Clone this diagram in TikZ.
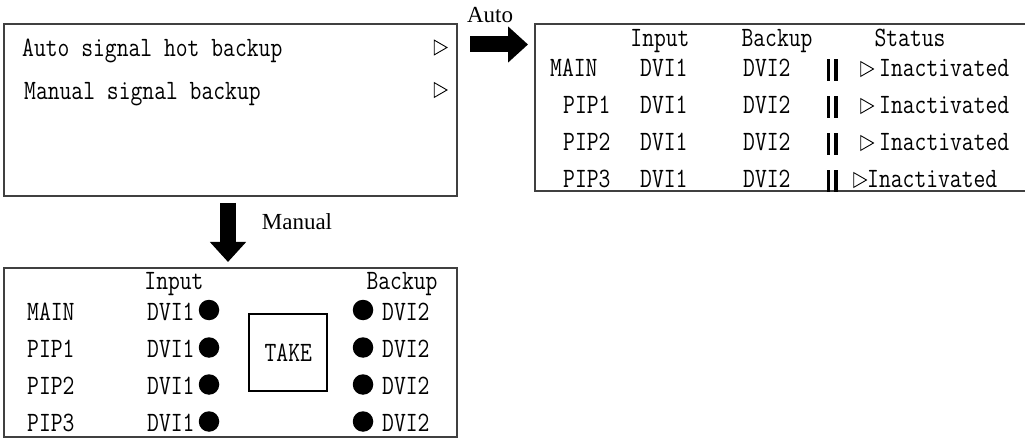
\documentclass[tikz,border=0pt]{standalone}
\usepackage{fontspec}
\setmainfont{Liberation Serif}
\usepackage{graphicx}
\usetikzlibrary{arrows.meta,shapes.geometric}

\newcommand{\lcd}[1]{\scalebox{0.82}[1]{#1}}

\tikzset{
  panel/.style={draw=black!75, line width=1.1pt},
  lcdtext/.style={font=\ttfamily\fontsize{28}{30}\selectfont, inner sep=0pt},
  tag/.style={font=\fontsize{23}{26}\selectfont, inner sep=0pt},
  tri/.style={draw, line width=0.9pt, regular polygon, regular polygon sides=3,
    shape border rotate=-90, minimum size=17pt, inner sep=0pt},
  dot/.style={circle, fill, minimum size=20.5pt, inner sep=0pt},
  bars/.style={inner sep=0pt, anchor=base},
  bigarrow/.style={line width=16pt, -{Triangle[length=20pt,width=35pt]}},
}

\newcommand{\dbar}{\rule[-4pt]{3.5pt}{22pt}\hspace{4pt}\rule[-4pt]{3.5pt}{22pt}}

\begin{document}
\begin{tikzpicture}[x=1pt,y=-1pt]
      \clip (0,0) rectangle (1025,438);

      % menu
      \draw[panel] (4,24) rectangle (457,196);
      \node[lcdtext, anchor=base west] (mauto) at (22,56.5) {\lcd{Auto signal hot backup}};
      \node[lcdtext, anchor=base west] (mman) at (24,99.5) {\lcd{Manual signal backup}};
      \node[tri] (tauto) at (438.5,47.5) {};
      \node[tri] (tman) at (438.5,90) {};

      % arrows
      \coordinate (autofrom) at (470,44.5);
      \coordinate (autoto) at (528,44.5);
      \draw[bigarrow] (autofrom) -- (autoto);
      \node[tag] (autolbl) at (490,15) {Auto};

      \coordinate (manfrom) at (228,203);
      \coordinate (manto) at (228,262);
      \draw[bigarrow] (manfrom) -- (manto);
      \node[tag] (manlbl) at (297,221.5) {Manual};

      % auto table
      \draw[panel] (535,24) rectangle (1035,191);
      \node[lcdtext, anchor=base] (ahin) at (660,47) {\lcd{Input}};
      \node[lcdtext, anchor=base] (ahbk) at (777,47) {\lcd{Backup}};
      \node[lcdtext, anchor=base] (ahst) at (910,47) {\lcd{Status}};

      \node[lcdtext, anchor=base west] (amain) at (550,77) {\lcd{MAIN}};
      \node[lcdtext, anchor=base west] (ain0) at (640,77) {\lcd{DVI1}};
      \node[lcdtext, anchor=base west] (abk0) at (743,77) {\lcd{DVI2}};
      \node[bars] (abar0) at (832,77) {\dbar};
      \node[tri] (atri0) at (865,69) {};
      \node[lcdtext, anchor=base west] (ast0) at (879,77) {\lcd{Inactivated}};

      \node[lcdtext, anchor=base west] (apip1) at (563,114) {\lcd{PIP1}};
      \node[lcdtext, anchor=base west] (ain1) at (640,114) {\lcd{DVI1}};
      \node[lcdtext, anchor=base west] (abk1) at (743,114) {\lcd{DVI2}};
      \node[bars] (abar1) at (832,114) {\dbar};
      \node[tri] (atri1) at (865,106) {};
      \node[lcdtext, anchor=base west] (ast1) at (879,114) {\lcd{Inactivated}};

      \node[lcdtext, anchor=base west] (apip2) at (563,151) {\lcd{PIP2}};
      \node[lcdtext, anchor=base west] (ain2) at (640,151) {\lcd{DVI1}};
      \node[lcdtext, anchor=base west] (abk2) at (743,151) {\lcd{DVI2}};
      \node[bars] (abar2) at (832,151) {\dbar};
      \node[tri] (atri2) at (865,143) {};
      \node[lcdtext, anchor=base west] (ast2) at (879,151) {\lcd{Inactivated}};

      \node[lcdtext, anchor=base west] (apip3) at (563,188) {\lcd{PIP3}};
      \node[lcdtext, anchor=base west] (ain3) at (640,188) {\lcd{DVI1}};
      \node[lcdtext, anchor=base west] (abk3) at (743,188) {\lcd{DVI2}};
      \node[bars] (abar3) at (832,188) {\dbar};
      \node[tri] (atri3) at (858,180) {};
      \node[lcdtext, anchor=base west] (ast3) at (867,188) {\lcd{Inactivated}};

      % manual table
      \draw[panel] (4,268) rectangle (457,437);
      \node[lcdtext, anchor=base] (mhin) at (174,290) {\lcd{Input}};
      \node[lcdtext, anchor=base] (mhbk) at (402,290) {\lcd{Backup}};

      \node[lcdtext, anchor=base west] (mmain) at (27,320) {\lcd{MAIN}};
      \node[lcdtext, anchor=base west] (min0) at (147,320) {\lcd{DVI1}};
      \node[dot] (mdi0) at (209,310) {};
      \node[dot] (mdb0) at (363,310) {};
      \node[lcdtext, anchor=base west] (mbk0) at (382,320) {\lcd{DVI2}};

      \node[lcdtext, anchor=base west] (mpip1) at (27,357) {\lcd{PIP1}};
      \node[lcdtext, anchor=base west] (min1) at (147,357) {\lcd{DVI1}};
      \node[dot] (mdi1) at (209,347.5) {};
      \node[dot] (mdb1) at (363,347.5) {};
      \node[lcdtext, anchor=base west] (mbk1) at (382,357) {\lcd{DVI2}};

      \node[lcdtext, anchor=base west] (mpip2) at (27,394) {\lcd{PIP2}};
      \node[lcdtext, anchor=base west] (min2) at (147,394) {\lcd{DVI1}};
      \node[dot] (mdi2) at (209,384.5) {};
      \node[dot] (mdb2) at (363,384.5) {};
      \node[lcdtext, anchor=base west] (mbk2) at (382,394) {\lcd{DVI2}};

      \node[lcdtext, anchor=base west] (mpip3) at (27,431) {\lcd{PIP3}};
      \node[lcdtext, anchor=base west] (min3) at (147,431) {\lcd{DVI1}};
      \node[dot] (mdi3) at (209,421.5) {};
      \node[dot] (mdb3) at (363,421.5) {};
      \node[lcdtext, anchor=base west] (mbk3) at (382,431) {\lcd{DVI2}};

      \node[lcdtext, draw, line width=1.8pt, minimum width=78pt, minimum height=77pt] (take) at (288.3,352.7) {\lcd{TAKE}};
    \end{tikzpicture}
\end{document}
